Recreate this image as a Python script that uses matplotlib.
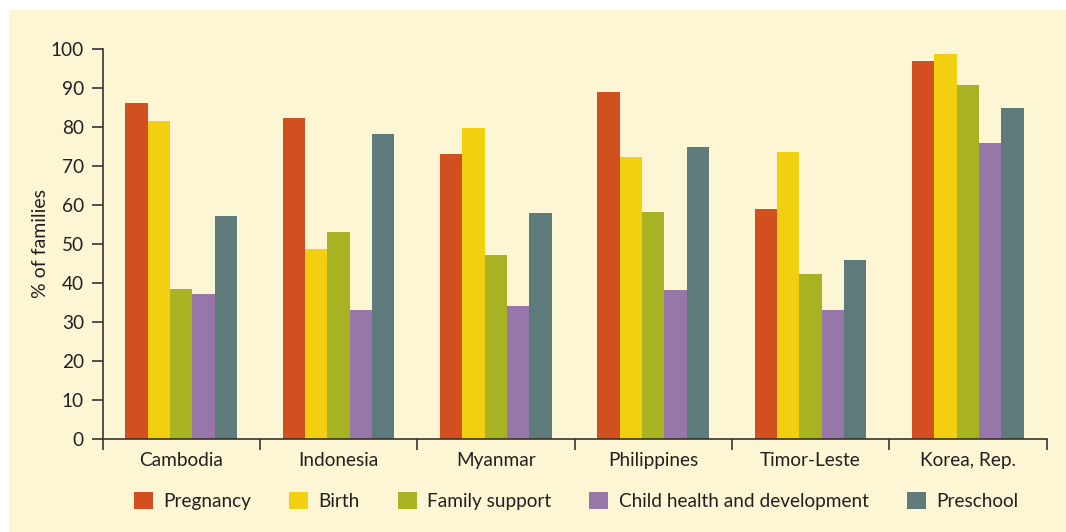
import numpy as np
import matplotlib
matplotlib.use("Agg")
import matplotlib.pyplot as plt
from matplotlib.patches import Rectangle, Patch

# data
countries = ["Cambodia", "Indonesia", "Myanmar", "Philippines", "Timor-Leste", "Korea, Rep."]
series_names = ["Pregnancy", "Birth", "Family support", "Child health and development", "Preschool"]
pregnancy = [86.2, 82.4, 73.2, 89.1, 59.0, 97.0]
birth = [81.5, 48.8, 79.8, 72.4, 73.7, 98.8]
family_support = [38.5, 53.2, 47.3, 58.3, 42.4, 90.8]
child_health = [37.3, 33.2, 34.2, 38.3, 33.2, 76.0]
preschool = [57.3, 78.3, 58.0, 75.0, 46.0, 84.9]
y_ticks = list(range(0, 101, 10))

colors = ["#D2501F", "#F2CF10", "#A7B322", "#9776AA", "#5F7A7B"]
bg = "#FDF6D4"
txt = "#231F20"

plt.rcParams["font.family"] = ["Lato", "DejaVu Sans"]
fs = 13.7

fig = plt.figure(figsize=(10.66, 5.32), dpi=100)
fig.patch.set_facecolor("white")
# cream panel behind everything
fig.patches.append(Rectangle((9 / 1066, 0), 1, 1 - 10 / 532, transform=fig.transFigure,
                             facecolor=bg, edgecolor="none", zorder=-1))

ax = fig.add_axes([102.6 / 1066, 1 - 439.3 / 532, 944 / 1066, 390 / 532])
ax.set_facecolor("none")

all_series = [pregnancy, birth, family_support, child_health, preschool]
x = np.arange(len(countries))
n = len(all_series)
group_w = 0.71
w = group_w / n
for i, vals in enumerate(all_series):
    ax.bar(x - group_w / 2 + w * (i + 0.5), vals, width=w, color=colors[i], linewidth=0)

ax.set_xlim(-0.5, len(countries) - 0.5)
ax.set_ylim(0, 100)
ax.set_yticks(y_ticks)
ax.set_xticks(np.arange(len(countries) + 1) - 0.5)
ax.set_xticklabels([])
ax.set_xticks(x, minor=True)
ax.set_xticklabels(countries, minor=True)
ax.tick_params(axis="x", which="major", length=8, width=1.2, color="#333333", direction="out")
ax.tick_params(axis="x", which="minor", length=0, pad=9, labelcolor=txt, labelsize=fs)
ax.tick_params(axis="y", length=8, width=1.2, color="#333333", pad=5.5, labelcolor=txt,
               labelsize=fs)

for s in ["top", "right"]:
    ax.spines[s].set_visible(False)
for s in ["left", "bottom"]:
    ax.spines[s].set_color("#333333")
    ax.spines[s].set_linewidth(1.2)

fig.text(40 / 1066, 1 - 244 / 532, "% of families", rotation=90, ha="center", va="center",
         color=txt, fontsize=14)

handles = [Patch(facecolor=c, edgecolor="none") for c in colors]
fig.legend(handles, series_names, loc="center", bbox_to_anchor=(576 / 1066, 1 - 501 / 532), ncol=5,
           frameon=False, handlelength=1.0, handleheight=1.0, handletextpad=0.55,
           columnspacing=2.0, labelcolor=txt, fontsize=fs)

fig.savefig("out.png", dpi=100, facecolor=fig.get_facecolor())
